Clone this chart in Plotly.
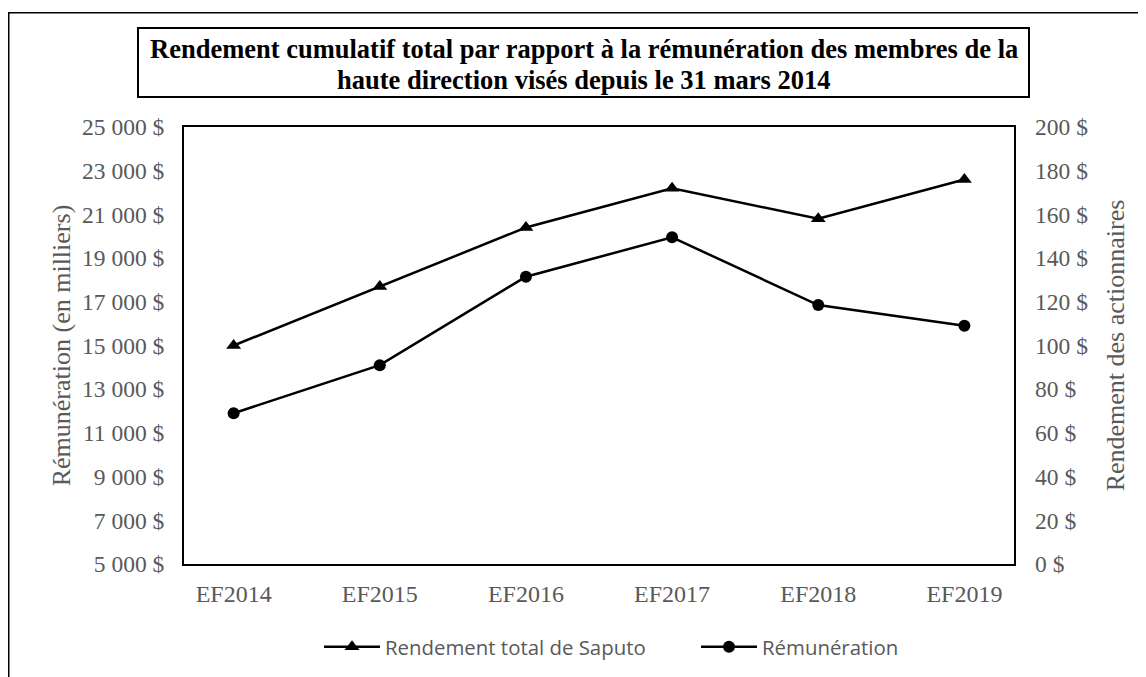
import plotly.graph_objects as go

categories = ["EF2014", "EF2015", "EF2016", "EF2017", "EF2018", "EF2019"]
rendement_saputo = [100, 127, 154, 172, 158, 176]
remuneration = [11900, 14100, 18150, 19950, 16850, 15900]

left_tickvals = [5000, 7000, 9000, 11000, 13000, 15000, 17000, 19000, 21000, 23000, 25000]
left_ticktext = ["5 000 $", "7 000 $", "9 000 $", "11 000 $", "13 000 $", "15 000 $",
                 "17 000 $", "19 000 $", "21 000 $", "23 000 $", "25 000 $"]
right_tickvals = [0, 20, 40, 60, 80, 100, 120, 140, 160, 180, 200]
right_ticktext = ["0 $", "20 $", "40 $", "60 $", "80 $", "100 $", "120 $", "140 $",
                  "160 $", "180 $", "200 $"]

title_line1 = "Rendement cumulatif total par rapport à la rémunération des membres de la"
title_line2 = "haute direction visés depuis le 31 mars 2014"

W, H = 1146, 677
L, R, T, B = 176, 1006, 119, 556
pw, ph = R - L, B - T


def px(x):
    return (x - L) / pw


def py(y):
    return (B - y) / ph


serif = "Liberation Serif, Times New Roman, serif"
gray = "#595959"

fig = go.Figure()
fig.add_trace(go.Scatter(
    x=categories, y=rendement_saputo, name="Rendement total de Saputo",
    mode="lines+markers", yaxis="y2",
    line=dict(color="black", width=2.5),
    marker=dict(symbol="triangle-up", size=13, color="black"),
))
fig.add_trace(go.Scatter(
    x=categories, y=remuneration, name="Rémunération",
    mode="lines+markers", yaxis="y",
    line=dict(color="black", width=2.5),
    marker=dict(symbol="circle", size=12, color="black"),
))

fig.update_layout(
    width=W, height=H,
    margin=dict(l=L, r=W - R, t=T, b=H - B, autoexpand=False),
    paper_bgcolor="white", plot_bgcolor="white",
    showlegend=True,
    legend=dict(orientation="h", x=px(688), xanchor="center", y=py(639), yanchor="middle",
                font=dict(family="Open Sans, sans-serif", size=20.4, color=gray),
                itemwidth=56, entrywidth=306, entrywidthmode="pixels", tracegroupgap=0),
    xaxis=dict(
        showgrid=False, zeroline=False, showline=True, linecolor="black", linewidth=2,
        mirror=True, ticks="", ticklabelstandoff=7,
        tickfont=dict(family=serif, size=24, color=gray),
    ),
    yaxis=dict(
        range=[5000, 25000], tickvals=left_tickvals, ticktext=left_ticktext,
        showgrid=False, zeroline=False, showline=True, linecolor="black", linewidth=2,
        mirror=True, ticks="", ticklabelstandoff=13,
        tickfont=dict(family=serif, size=23.5, color=gray),
        title=dict(text="Rémunération (en milliers)", standoff=4,
                   font=dict(family=serif, size=26, color=gray)),
    ),
    yaxis2=dict(
        range=[0, 200], tickvals=right_tickvals, ticktext=right_ticktext,
        overlaying="y", side="right", showgrid=False, zeroline=False, showline=False,
        ticks="", ticklabelstandoff=20,
        tickfont=dict(family=serif, size=23.5, color=gray),
        title=dict(text="Rendement des actionnaires", standoff=18,
                   font=dict(family=serif, size=26, color=gray)),
    ),
)

# outer frame (cut off at right and bottom)
fig.add_shape(type="rect", xref="paper", yref="paper",
              x0=px(0.75), x1=px(1170), y0=py(700), y1=py(4.7),
              line=dict(color="black", width=1.5), layer="below")
# title box
fig.add_shape(type="rect", xref="paper", yref="paper",
              x0=px(130), x1=px(1021), y0=py(89), y1=py(20),
              line=dict(color="black", width=2), fillcolor="white")
fig.add_annotation(xref="paper", yref="paper", x=px(575.5), y=py(41),
                   xanchor="center", yanchor="middle", showarrow=False,
                   text="<b>" + title_line1 + "</b>",
                   font=dict(family=serif, size=26.5, color="black"))
fig.add_annotation(xref="paper", yref="paper", x=px(575.5), y=py(72),
                   xanchor="center", yanchor="middle", showarrow=False,
                   text="<b>" + title_line2 + "</b>",
                   font=dict(family=serif, size=26.5, color="black"))

fig.write_html("out.html")
